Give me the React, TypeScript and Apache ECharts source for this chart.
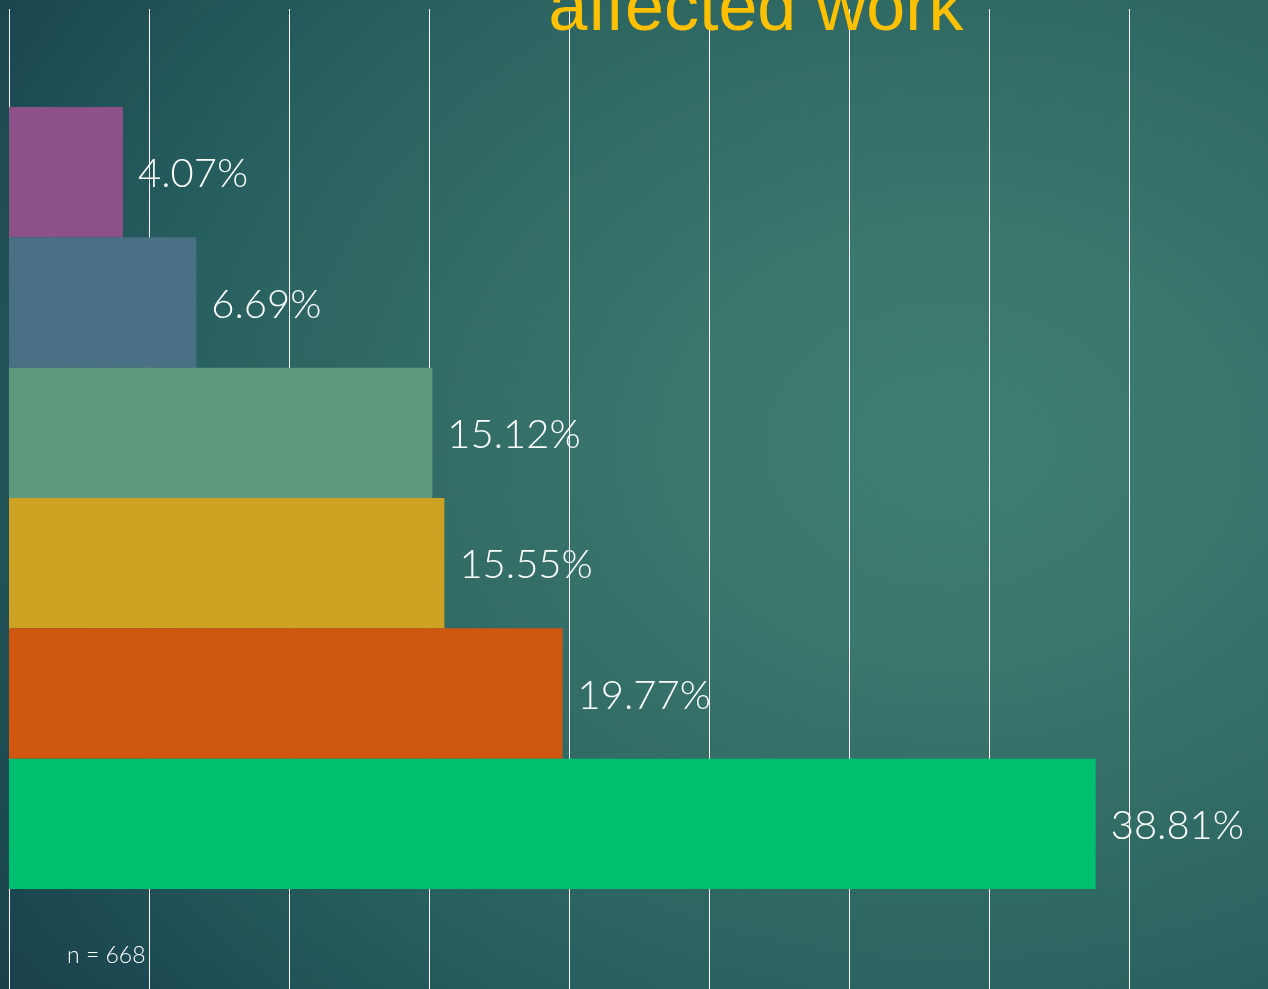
import React, { useEffect, useRef } from "react";
import * as echarts from "echarts";

const titleText = "affected work";
const categories = ["Option 1", "Option 2", "Option 3", "Option 4", "Option 5", "Option 6"];
const values = [4.07, 6.69, 15.12, 15.55, 19.77, 38.81];
const barColors = ["#8B5188", "#4A7086", "#5E997E", "#CDA223", "#D0570F", "#00BF6F"];
const noteText = "n = 668";

export default function App() {
  const ref = useRef<HTMLDivElement>(null);
  useEffect(() => {
    if (!ref.current) return;
    const chart = echarts.init(ref.current, undefined, { renderer: "svg" });
    chart.setOption({
      animation: false,
      backgroundColor: {
        type: "radial",
        x: 0.75,
        y: 0.45,
        r: 1.1,
        colorStops: [
          { offset: 0, color: "#3E7E71" },
          { offset: 0.2, color: "#3A776D" },
          { offset: 0.45, color: "#2E6762" },
          { offset: 0.56, color: "#27605F" },
          { offset: 0.82, color: "#1A434E" },
          { offset: 1, color: "#133443" },
        ],
      },
      grid: [
        { left: 9, top: 9, bottom: 0, width: 1120, containLabel: false },
        { left: 9, top: 107, height: 782, width: 1120, containLabel: false },
      ],
      xAxis: [
        {
          type: "value",
          gridIndex: 0,
          min: 0,
          max: 40,
          interval: 5,
          axisLine: { show: false },
          axisTick: { show: false },
          axisLabel: { show: false },
          splitLine: { show: true, lineStyle: { color: "#FFFFFF", width: 1 } },
        },
        {
          type: "value",
          gridIndex: 1,
          min: 0,
          max: 40,
          interval: 5,
          axisLine: { show: false },
          axisTick: { show: false },
          axisLabel: { show: false },
          splitLine: { show: false },
        },
      ],
      yAxis: [
        { type: "value", gridIndex: 0, show: false, min: 0, max: 1 },
        {
          type: "category",
          gridIndex: 1,
          data: categories,
          inverse: true,
          axisLine: { show: false },
          axisTick: { show: false },
          axisLabel: { show: false },
        },
      ],
      series: [
        {
          type: "bar",
          xAxisIndex: 0,
          yAxisIndex: 0,
          data: [],
        },
        {
          type: "bar",
          xAxisIndex: 1,
          yAxisIndex: 1,
          barCategoryGap: "0%",
          data: values.map((v, i) => ({ value: v, itemStyle: { color: barColors[i] } })),
          label: {
            show: true,
            position: "right",
            distance: 15,
            color: "#FFFFFF",
            fontFamily: "Lato",
            fontWeight: 300,
            fontSize: 40,
            formatter: (p: any) => p.value.toFixed(2) + "%",
          },
        },
      ],
      graphic: [
        {
          type: "text",
          x: 756,
          y: 6,
          style: {
            text: titleText,
            fill: "#FFC000",
            font: "70px 'Liberation Sans', Arial, sans-serif",
            textAlign: "center",
            textVerticalAlign: "middle",
          },
          z: 10,
        },
        {
          type: "text",
          x: 67,
          y: 954,
          style: {
            text: noteText,
            fill: "#FFFFFF",
            font: "300 23px Lato, sans-serif",
            textAlign: "left",
            textVerticalAlign: "middle",
          },
          z: 10,
        },
      ],
    });
    return () => chart.dispose();
  }, []);
  return (
    <div
      ref={ref}
      style={{ position: "fixed", left: 0, top: 0, width: 1268, height: 989 }}
    />
  );
}
